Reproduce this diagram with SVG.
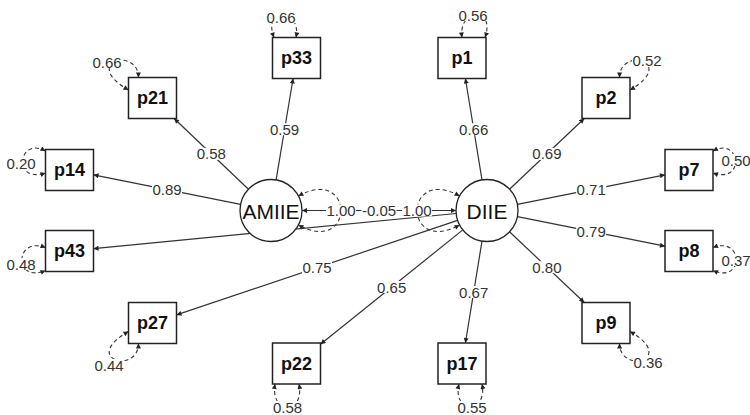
<svg xmlns="http://www.w3.org/2000/svg" width="750" height="415" viewBox="0 0 750 415">
<defs>
<style>
.e{stroke:#333;stroke-width:1.2;fill:none;marker-end:url(#ah)}
.c{stroke:#333;stroke-width:1.2;fill:none;marker-start:url(#ah);marker-end:url(#ah)}
.l{stroke:#333;stroke-width:1.1;fill:none;stroke-dasharray:4 3;marker-start:url(#ah);marker-end:url(#ah)}
.bg{fill:#fff}
.t{font-family:"Liberation Sans",Arial,sans-serif;font-size:15px;fill:#333;text-anchor:middle;dominant-baseline:central}
.box{fill:#fff;stroke:#222;stroke-width:1.5}
.lat{fill:#fff;stroke:#222;stroke-width:1.3}
.bt{font-family:"Liberation Sans",Arial,sans-serif;font-size:18px;font-weight:bold;fill:#111;text-anchor:middle;dominant-baseline:central}
.lt{font-family:"Liberation Sans",Arial,sans-serif;font-size:21px;fill:#111;text-anchor:middle;dominant-baseline:central}
</style>
<marker id="ah" viewBox="0 0 10 10" refX="10" refY="5" markerWidth="7" markerHeight="5" orient="auto-start-reverse" markerUnits="userSpaceOnUse"><path d="M0,0 L10,5 L0,10 z" fill="#222"/></marker>
</defs>
<rect width="750" height="415" fill="#fff"/>
<g id="connectors">
<line class="e" x1="248.5" y1="189.2" x2="174.1" y2="118.5"/>
<line class="e" x1="276.1" y1="179.9" x2="293.1" y2="78.5"/>
<line class="e" x1="240.6" y1="204.4" x2="93.5" y2="174.8"/>
<line class="e" x1="456.1" y1="213.5" x2="93.5" y2="248.7"/>
<line class="e" x1="457.6" y1="220.4" x2="176.5" y2="314.9"/>
<line class="e" x1="462.8" y1="229.9" x2="320.5" y2="344.2"/>
<line class="e" x1="482" y1="241.1" x2="465.4" y2="343"/>
<line class="e" x1="509.5" y1="231.8" x2="584.3" y2="302.5"/>
<line class="e" x1="517.4" y1="216.6" x2="665" y2="246.2"/>
<line class="e" x1="517.4" y1="204.4" x2="665" y2="174.8"/>
<line class="e" x1="509.5" y1="189.2" x2="584.3" y2="118.5"/>
<line class="e" x1="482" y1="179.9" x2="465.4" y2="78.5"/>
<line class="c" x1="302" y1="210.5" x2="456" y2="210.5"/>
<path class="l" d="M298.4,196 C355,165 355,256 298.4,225"/>
<path class="l" d="M459.6,196 C403,165 403,256 459.6,225"/>
<path class="l" d="M274,37.5 C262,6 302,8 296,37.5"/>
<path class="l" d="M462,37.5 C458,8 496,6 485,37.5"/>
<path class="l" d="M138.5,77.5 C138,46 80,62 128.5,90"/>
<path class="l" d="M619.5,77.5 C620,46 678,62 630,90"/>
<path class="l" d="M45.5,151 C18,136 12,184 45.5,173"/>
<path class="l" d="M45.5,247.5 C14,236 14,284 45.5,270.5"/>
<path class="l" d="M713,151 C740,136 746,184 713,173"/>
<path class="l" d="M713,247.5 C744,236 744,284 713,270.5"/>
<path class="l" d="M128.5,331.5 C80,359 138,375 138.5,343.5"/>
<path class="l" d="M630,331.5 C678,359 620,375 619.5,343.5"/>
<path class="l" d="M275,384 C270,415 305,415 299,384"/>
<path class="l" d="M459,384 C452,414 488,414 482,384"/>
<g>
<rect class="bg" x="196.3" y="147.9" width="30" height="12"/><text class="t" x="211.3" y="153.9">0.58</text>
<rect class="bg" x="269.6" y="123.2" width="30" height="12"/><text class="t" x="284.6" y="129.2">0.59</text>
<rect class="bg" x="152" y="183.6" width="30" height="12"/><text class="t" x="167" y="189.6">0.89</text>
<rect class="bg" x="302" y="261.6" width="30" height="12"/><text class="t" x="317" y="267.6">0.75</text>
<rect class="bg" x="376.7" y="281" width="30" height="12"/><text class="t" x="391.7" y="287">0.65</text>
<rect class="bg" x="458.7" y="286" width="30" height="12"/><text class="t" x="473.7" y="292">0.67</text>
<rect class="bg" x="531.9" y="261.2" width="30" height="12"/><text class="t" x="546.9" y="267.2">0.80</text>
<rect class="bg" x="576.2" y="225.4" width="30" height="12"/><text class="t" x="591.2" y="231.4">0.79</text>
<rect class="bg" x="576.2" y="183.6" width="30" height="12"/><text class="t" x="591.2" y="189.6">0.71</text>
<rect class="bg" x="531.9" y="147.9" width="30" height="12"/><text class="t" x="546.9" y="153.9">0.69</text>
<rect class="bg" x="458.7" y="123.2" width="30" height="12"/><text class="t" x="473.7" y="129.2">0.66</text>
<rect class="bg" x="361.5" y="204.5" width="35" height="12"/><text class="t" x="379" y="210.5">-0.05</text>
<rect class="bg" x="326" y="204.5" width="30" height="12"/><text class="t" x="341" y="210.5">1.00</text>
<rect class="bg" x="402" y="204.5" width="30" height="12"/><text class="t" x="417" y="210.5">1.00</text>
<rect class="bg" x="266" y="11" width="30" height="12"/><text class="t" x="281" y="17">0.66</text>
<rect class="bg" x="458" y="9" width="30" height="12"/><text class="t" x="473" y="15">0.56</text>
<rect class="bg" x="92" y="56" width="30" height="12"/><text class="t" x="107" y="62">0.66</text>
<rect class="bg" x="632" y="54" width="30" height="12"/><text class="t" x="647" y="60">0.52</text>
<rect class="bg" x="6" y="157" width="30" height="12"/><text class="t" x="21" y="163">0.20</text>
<rect class="bg" x="6" y="258" width="30" height="12"/><text class="t" x="21" y="264">0.48</text>
<rect class="bg" x="721" y="154" width="30" height="12"/><text class="t" x="736" y="160">0.50</text>
<rect class="bg" x="721" y="254" width="30" height="12"/><text class="t" x="736" y="260">0.37</text>
<rect class="bg" x="94" y="359" width="30" height="12"/><text class="t" x="109" y="365">0.44</text>
<rect class="bg" x="633" y="356" width="30" height="12"/><text class="t" x="648" y="362">0.36</text>
<rect class="bg" x="272.5" y="401" width="30" height="12"/><text class="t" x="287.5" y="407">0.58</text>
<rect class="bg" x="457" y="401" width="30" height="12"/><text class="t" x="472" y="407">0.55</text>
</g>
</g>
<g id="AMIIE"><circle class="lat" cx="271" cy="210.5" r="31"/><text class="lt" x="271" y="211">AMIIE</text></g>
<g id="DIIE"><circle class="lat" cx="487" cy="210.5" r="31"/><text class="lt" x="487" y="211">DIIE</text></g>
<g id="p33"><rect class="box" x="272.5" y="37.5" width="48" height="41"/><text class="bt" x="296.5" y="58">p33</text></g>
<g id="p1"><rect class="box" x="438" y="37.5" width="48" height="41"/><text class="bt" x="462" y="58">p1</text></g>
<g id="p21"><rect class="box" x="128.5" y="77.5" width="48" height="41"/><text class="bt" x="152.5" y="98">p21</text></g>
<g id="p2"><rect class="box" x="582" y="77.5" width="48" height="41"/><text class="bt" x="606" y="98">p2</text></g>
<g id="p14"><rect class="box" x="45.5" y="149.5" width="48" height="41"/><text class="bt" x="69.5" y="170">p14</text></g>
<g id="p7"><rect class="box" x="665" y="149.5" width="48" height="41"/><text class="bt" x="689" y="170">p7</text></g>
<g id="p43"><rect class="box" x="45.5" y="230.5" width="48" height="41"/><text class="bt" x="69.5" y="251">p43</text></g>
<g id="p8"><rect class="box" x="665" y="230.5" width="48" height="41"/><text class="bt" x="689" y="251">p8</text></g>
<g id="p27"><rect class="box" x="128.5" y="302.5" width="48" height="41"/><text class="bt" x="152.5" y="323">p27</text></g>
<g id="p9"><rect class="box" x="582" y="302.5" width="48" height="41"/><text class="bt" x="606" y="323">p9</text></g>
<g id="p22"><rect class="box" x="272.5" y="343" width="48" height="41"/><text class="bt" x="296.5" y="363.5">p22</text></g>
<g id="p17"><rect class="box" x="438" y="343" width="48" height="41"/><text class="bt" x="462" y="363.5">p17</text></g>
</svg>
